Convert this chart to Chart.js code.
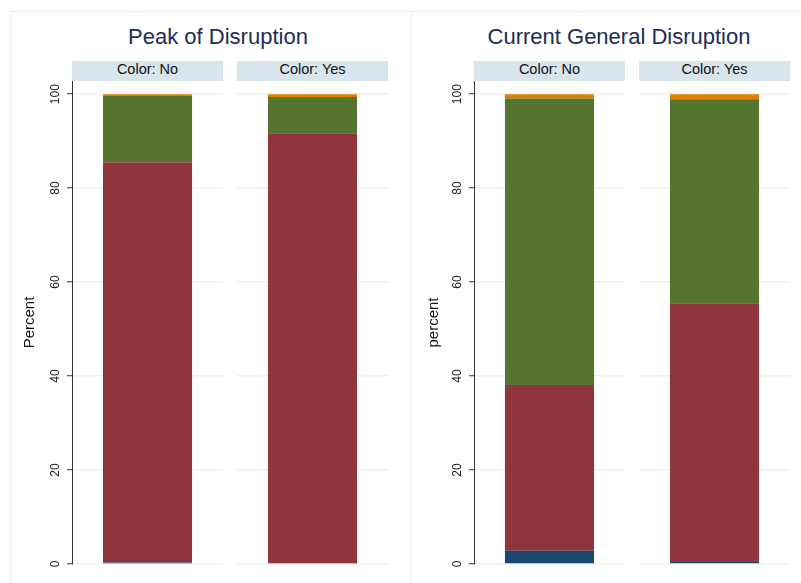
<!DOCTYPE html>
<html>
<head>
<meta charset="utf-8">
<script src="https://cdn.jsdelivr.net/npm/chart.js@4.4.1/dist/chart.umd.min.js"></script>
<style>
  html, body { margin: 0; padding: 0; background: #ffffff; }
  body { width: 801px; height: 583px; position: relative; overflow: hidden;
         font-family: "Liberation Sans", Arial, sans-serif; }
  .frame { position: absolute; border: 1px solid #e6eded; box-sizing: border-box; }
  .title { position: absolute; font-size: 22px; line-height: 22px; color: #1e2d57;
           text-align: center; white-space: nowrap; }
  .strip { position: absolute; height: 20px; background: #d9e5ec; color: #111;
           font-size: 14.5px; line-height: 16px; text-align: center; }
  canvas { position: absolute; }
</style>
</head>
<body>
<div class="frame" style="left:10px;top:11px;width:402px;height:590px;"></div>
<div class="frame" style="left:411px;top:11px;width:400px;height:590px;"></div>

<div class="title" style="left:18px;top:26px;width:400px;">Peak of Disruption</div>
<div class="title" style="left:419px;top:26px;width:400px;">Current General Disruption</div>

<div class="strip" style="left:72px;top:61px;width:151px;">Color: No</div>
<div class="strip" style="left:237px;top:61px;width:151px;">Color: Yes</div>
<div class="strip" style="left:474px;top:61px;width:151px;">Color: No</div>
<div class="strip" style="left:639px;top:61px;width:151px;">Color: Yes</div>

<canvas id="pNo"  style="left:17px;top:81px;"  width="206" height="502"></canvas>
<canvas id="pYes" style="left:237px;top:81px;" width="151" height="502"></canvas>
<canvas id="cNo"  style="left:421px;top:81px;" width="204" height="502"></canvas>
<canvas id="cYes" style="left:639px;top:81px;" width="151" height="502"></canvas>

<script>
// Facet categories and percentage shares of each stacked segment
const categories = ['Color: No', 'Color: Yes'];

// Peak of Disruption
const peakNavy   = [0.3, 0.2];
const peakMaroon = [85.2, 91.5];
const peakGreen  = [14.1, 7.7];
const peakOrange = [0.4, 0.6];

// Current General Disruption
const currentNavy   = [2.8, 0.4];
const currentMaroon = [35.3, 55.1];
const currentGreen  = [61.0, 43.4];
const currentOrange = [0.9, 1.1];

const yTicks = [0, 20, 40, 60, 80, 100];
const yMax = 102.8;

const segmentColors = ['#1a476f', '#90353b', '#55752f', '#e37e00'];
const FONT = '"Liberation Sans", Arial, sans-serif';

function makeFacet(canvasId, seriesList, idx, axisTitle) {
  const showAxis = axisTitle !== null;
  const axisWidth = showAxis ? (canvasId === 'pNo' ? 55 : 53) : 0;
  new Chart(document.getElementById(canvasId), {
    type: 'bar',
    data: {
      labels: [categories[idx]],
      datasets: seriesList.map((arr, k) => ({
        data: [arr[idx]],
        backgroundColor: segmentColors[k],
        borderWidth: 0,
        barPercentage: 1,
        categoryPercentage: 0.59
      }))
    },
    options: {
      responsive: false,
      animation: false,
      events: [],
      layout: { padding: { top: 0, bottom: 19, left: 0, right: 0 }, autoPadding: false },
      plugins: { legend: { display: false }, tooltip: { enabled: false } },
      scales: {
        x: { stacked: true, display: false },
        y: {
          stacked: true,
          min: 0,
          max: yMax,
          afterBuildTicks: s => { s.ticks = yTicks.map(v => ({ value: v })); },
          afterFit: s => {
            s.width = axisWidth;
            s.paddingTop = 0;
            s.paddingBottom = 0;
          },
          grid: {
            color: '#edf2f2',
            lineWidth: 1.5,
            drawTicks: showAxis,
            tickLength: 5,
            tickColor: '#333333',
            tickWidth: 1
          },
          border: { display: showAxis, color: '#333333', width: 1 },
          ticks: {
            display: showAxis,
            minRotation: 90,
            maxRotation: 90,
            crossAlign: 'center',
            padding: 1.5,
            color: '#222222',
            font: { family: FONT, size: 12 }
          },
          title: {
            display: showAxis,
            text: axisTitle || '',
            color: '#111111',
            padding: { top: 4, bottom: 4 },
            font: { family: FONT, size: 15 }
          }
        }
      }
    }
  });
}

const peakSeries = [peakNavy, peakMaroon, peakGreen, peakOrange];
const currentSeries = [currentNavy, currentMaroon, currentGreen, currentOrange];

makeFacet('pNo', peakSeries, 0, 'Percent');
makeFacet('pYes', peakSeries, 1, null);
makeFacet('cNo', currentSeries, 0, 'percent');
makeFacet('cYes', currentSeries, 1, null);
</script>
</body>
</html>
